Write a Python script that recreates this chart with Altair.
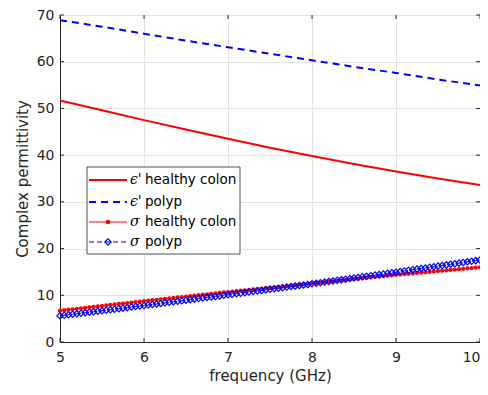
import altair as alt
import pandas as pd

# ---------------- data ----------------
freq_eps = [5.0, 5.5, 6.0, 6.5, 7.0, 7.5, 8.0, 8.5, 9.0, 9.5, 10.0]
eps_healthy = [51.7, 49.6, 47.5, 45.5, 43.5, 41.6, 39.8, 38.1, 36.5, 35.0, 33.6]
eps_polyp = [68.9, 67.5, 66.0, 64.5, 63.1, 61.7, 60.3, 58.9, 57.6, 56.2, 54.9]

freq_sig = [round(5 + 0.05 * i, 2) for i in range(101)]
sig_healthy = [
    6.70, 6.80, 6.91, 7.01, 7.11, 7.21, 7.32, 7.42, 7.52, 7.62, 7.73, 7.83, 7.93, 8.03, 8.14, 8.24, 8.34, 8.44, 8.55, 8.65, 8.75,
    8.85, 8.95, 9.04, 9.14, 9.24, 9.34, 9.43, 9.53, 9.63, 9.73, 9.82, 9.92, 10.02, 10.12, 10.21, 10.31, 10.41, 10.51, 10.60, 10.70,
    10.79, 10.89, 10.98, 11.07, 11.16, 11.26, 11.35, 11.44, 11.53, 11.63, 11.72, 11.81, 11.90, 12.00, 12.09, 12.18, 12.27, 12.37, 12.46, 12.55,
    12.64, 12.73, 12.82, 12.91, 13.00, 13.09, 13.18, 13.27, 13.36, 13.45, 13.54, 13.63, 13.72, 13.81, 13.90, 13.99, 14.08, 14.17, 14.26, 14.35,
    14.43, 14.52, 14.60, 14.68, 14.76, 14.85, 14.93, 15.01, 15.09, 15.18, 15.26, 15.34, 15.42, 15.51, 15.59, 15.67, 15.75, 15.84, 15.92, 16.00,
]
sig_polyp = [
    5.60, 5.71, 5.82, 5.93, 6.04, 6.15, 6.26, 6.37, 6.48, 6.59, 6.70, 6.81, 6.92, 7.03, 7.14, 7.25, 7.36, 7.47, 7.58, 7.69, 7.80,
    7.92, 8.03, 8.15, 8.26, 8.38, 8.49, 8.61, 8.72, 8.84, 8.95, 9.07, 9.18, 9.30, 9.41, 9.53, 9.64, 9.76, 9.87, 9.99, 10.10,
    10.22, 10.34, 10.45, 10.57, 10.69, 10.81, 10.92, 11.04, 11.16, 11.28, 11.39, 11.51, 11.63, 11.75, 11.86, 11.98, 12.10, 12.22, 12.33, 12.45,
    12.58, 12.70, 12.83, 12.95, 13.08, 13.20, 13.33, 13.45, 13.58, 13.70, 13.83, 13.95, 14.08, 14.20, 14.33, 14.45, 14.58, 14.70, 14.83, 14.95,
    15.08, 15.21, 15.34, 15.47, 15.60, 15.73, 15.86, 15.99, 16.12, 16.25, 16.38, 16.51, 16.64, 16.77, 16.90, 17.03, 17.16, 17.29, 17.42, 17.55,
]

x_ticks = [5, 6, 7, 8, 9, 10]
y_ticks = [0, 10, 20, 30, 40, 50, 60, 70]

legend_sym = ["\u03f5'", "\u03f5'", "\u03c3", "\u03c3"]
legend_txt = ["healthy colon", "polyp", "healthy colon", "polyp"]

# ---------------- layout ----------------
W, H = 420, 327
FONT = "DejaVu Sans"
AX = "#262626"
RED = "#ff0000"
BLUE = "#0000ff"

df_eh = pd.DataFrame({"f": freq_eps, "v": eps_healthy})
df_ep = pd.DataFrame({"f": freq_eps, "v": eps_polyp})
df_sh = pd.DataFrame({"f": freq_sig, "v": sig_healthy})
df_sp = pd.DataFrame({"f": freq_sig, "v": sig_polyp})

xs = alt.Scale(domain=[5, 10], nice=False)
ys = alt.Scale(domain=[0, 70], nice=False)

xax = alt.Axis(values=x_ticks, title="frequency (GHz)", grid=True, ticks=False,
               labelFont=FONT, labelFontSize=14, labelColor=AX, labelPadding=8,
               labelAlign=alt.expr("datum.value == 10 ? 'right' : 'center'"),
               titleFont=FONT, titleFontSize=15, titleFontWeight="normal", titleColor=AX,
               titlePadding=4, domainColor=AX, gridColor="#e3e3e3", labelFlush=False)
yax = alt.Axis(values=y_ticks, title="Complex permittivity", grid=True, ticks=False,
               labelFont=FONT, labelFontSize=14, labelColor=AX, labelPadding=6,
               titleFont=FONT, titleFontSize=15, titleFontWeight="normal", titleColor=AX,
               titlePadding=6, domainColor=AX, gridColor="#e3e3e3", labelFlush=False)

X = alt.X("f:Q", scale=xs, axis=xax)
Y = alt.Y("v:Q", scale=ys, axis=yax)

base = alt.Chart(df_eh).mark_line(color=RED, strokeWidth=2).encode(x=X, y=Y)
l_ep = alt.Chart(df_ep).mark_line(color=BLUE, strokeWidth=2, strokeDash=[7, 5]).encode(x=X, y=Y)
l_sh = alt.Chart(df_sh).mark_line(color=RED, strokeWidth=1).encode(x=X, y=Y)
p_sh = alt.Chart(df_sh).mark_point(color=RED, filled=True, size=18, opacity=1, shape="circle").encode(x=X, y=Y)
l_sp = alt.Chart(df_sp).mark_line(color=BLUE, strokeWidth=1, strokeDash=[5, 3]).encode(x=X, y=Y)
p_sp = alt.Chart(df_sp).mark_point(color=BLUE, filled=False, size=40, strokeWidth=1.2, opacity=1,
                                    shape="diamond").encode(x=X, y=Y)

# inward ticks (MATLAB style) on all four sides
tick_x = pd.DataFrame({"f": x_ticks})
tick_y = pd.DataFrame({"v": y_ticks})
tb = alt.Chart(tick_x).mark_rule(color=AX, strokeWidth=1).encode(x=X, y=alt.value(H), y2=alt.value(H - 4))
tt = alt.Chart(tick_x).mark_rule(color=AX, strokeWidth=1).encode(x=X, y=alt.value(0), y2=alt.value(4))
tl = alt.Chart(tick_y).mark_rule(color=AX, strokeWidth=1).encode(y=Y, x=alt.value(0), x2=alt.value(4))
tr = alt.Chart(tick_y).mark_rule(color=AX, strokeWidth=1).encode(y=Y, x=alt.value(W), x2=alt.value(W - 4))

# ---------------- legend ----------------
one = alt.Data(values=[{}])
LX0, LX1, LY0, LY1 = 27, 180, 152, 239
rows_y = [165, 187, 207, 227]
sx0, sx1 = 29, 67
leg = [alt.Chart(one).mark_rect(fill="white", stroke=AX, strokeWidth=0.8).encode(
    x=alt.value(LX0), x2=alt.value(LX1), y=alt.value(LY0), y2=alt.value(LY1))]
styles = [
    dict(color=RED, strokeWidth=2),
    dict(color=BLUE, strokeWidth=2, strokeDash=[7, 5]),
    dict(color=RED, strokeWidth=1),
    dict(color=BLUE, strokeWidth=1, strokeDash=[5, 3]),
]
for i, ry in enumerate(rows_y):
    leg.append(alt.Chart(one).mark_rule(**styles[i]).encode(
        x=alt.value(sx0), x2=alt.value(sx1), y=alt.value(ry)))
    leg.append(alt.Chart(one).mark_text(font="DejaVu Serif", fontStyle="italic", fontSize=14,
                                        align="left", baseline="middle", color="black").encode(
        x=alt.value(70), y=alt.value(ry), text=alt.value(legend_sym[i])))
    leg.append(alt.Chart(one).mark_text(font=FONT, fontSize=13.5, align="left", baseline="middle",
                                        color="black").encode(
        x=alt.value(85), y=alt.value(ry), text=alt.value(legend_txt[i])))
leg.append(alt.Chart(one).mark_point(color=RED, filled=True, size=22, opacity=1, shape="circle").encode(
    x=alt.value((sx0 + sx1) / 2), y=alt.value(rows_y[2])))
leg.append(alt.Chart(one).mark_point(color=BLUE, filled=False, size=40, strokeWidth=1.2, opacity=1,
                                     shape="diamond").encode(
    x=alt.value((sx0 + sx1) / 2), y=alt.value(rows_y[3])))

chart = alt.layer(base, l_ep, l_sh, p_sh, l_sp, p_sp, tb, tt, tl, tr, *leg).properties(
    width=W, height=H,
    autosize=alt.AutoSizeParams(type="none"),
    padding={"left": 52, "top": 7, "right": 0, "bottom": 45},
    background="white",
).configure_view(stroke=AX, strokeWidth=1)

chart.save("out.html", embed_options={"renderer": "svg", "actions": False})
